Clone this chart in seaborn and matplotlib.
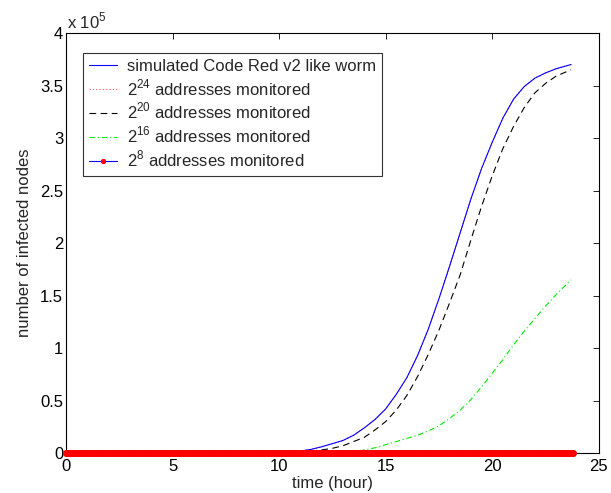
import matplotlib
matplotlib.use("Agg")
import matplotlib.pyplot as plt
import seaborn as sns
import pandas as pd
import numpy as np

sns.set_theme(style="white")
plt.rcParams['font.family'] = ['Liberation Sans', 'DejaVu Sans']
plt.rcParams['mathtext.fontset'] = 'custom'
plt.rcParams['mathtext.rm'] = 'Liberation Sans'

# time (hour) and infected nodes (x 1e5)
t_worm = [0, 5, 10, 10.5, 11, 11.5, 12, 12.5, 13, 13.5, 14, 14.5, 15, 15.5,
          16, 16.5, 17, 17.5, 18, 18.5, 19, 19.5, 20, 20.5, 21, 21.5, 22,
          22.5, 23, 23.7]
y_worm = [0, 0, 0, 0.01, 0.02, 0.035, 0.06, 0.09, 0.12, 0.17, 0.24, 0.32,
          0.42, 0.56, 0.72, 0.93, 1.18, 1.47, 1.78, 2.1, 2.42, 2.71, 2.96,
          3.19, 3.37, 3.49, 3.57, 3.62, 3.66, 3.70]

t_24 = t_worm
y_24 = y_worm

t_20 = [0, 5, 10, 10.5, 11, 11.5, 12, 12.5, 13, 13.5, 14, 14.5, 15, 15.5,
        16, 16.5, 17, 17.5, 18, 18.5, 19, 19.5, 20, 20.5, 21, 21.5, 22,
        22.5, 23, 23.7]
y_20 = [0, 0, 0, 0.003, 0.01, 0.02, 0.03, 0.045, 0.07, 0.11, 0.15, 0.22,
        0.3, 0.41, 0.55, 0.73, 0.94, 1.17, 1.43, 1.70, 2.03, 2.35, 2.64,
        2.90, 3.11, 3.29, 3.43, 3.52, 3.59, 3.65]

t_16 = [0, 5, 10, 13, 13.5, 14, 14.5, 15, 15.5, 16, 16.5, 17, 17.5, 18,
        18.5, 19, 19.5, 20, 20.5, 21, 21.5, 22, 22.5, 23, 23.7]
y_16 = [0, 0, 0, 0, 0.01, 0.03, 0.05, 0.08, 0.11, 0.14, 0.17, 0.21, 0.26,
        0.33, 0.41, 0.51, 0.63, 0.76, 0.89, 1.03, 1.16, 1.28, 1.40, 1.51,
        1.65]

t_8 = np.arange(0, 23.85, 0.05)
y_8 = np.where(t_8 < 19.3, 0.0, 0.005)

labels = ["simulated Code Red v2 like worm",
          r"2$^{24}$ addresses monitored",
          r"2$^{20}$ addresses monitored",
          r"2$^{16}$ addresses monitored",
          r"2$^{8}$ addresses monitored"]

fig, ax = plt.subplots(figsize=(6.11, 4.93), dpi=100)
plt.subplots_adjust(left=0.108, right=0.980, top=0.933, bottom=0.081)

df_worm = pd.DataFrame({"t": t_worm, "y": y_worm})
df_24 = pd.DataFrame({"t": t_24, "y": y_24})
df_20 = pd.DataFrame({"t": t_20, "y": y_20})
df_16 = pd.DataFrame({"t": t_16, "y": y_16})
df_8 = pd.DataFrame({"t": t_8, "y": y_8})

sns.lineplot(data=df_8, x="t", y="y", ax=ax, color="blue", lw=0.8,
             marker="o", markersize=4, markerfacecolor="red",
             markeredgecolor="red", markeredgewidth=1.0,
             label=labels[4], zorder=5, clip_on=False)
sns.lineplot(data=df_16, x="t", y="y", ax=ax, color="#00ee00", lw=0.8,
             linestyle=(0, (5, 2.5, 1, 2.5)), label=labels[3])
sns.lineplot(data=df_20, x="t", y="y", ax=ax, color="black", lw=0.8,
             linestyle=(0, (6, 4)), label=labels[2])
sns.lineplot(data=df_24, x="t", y="y", ax=ax, color="#ff5555", lw=0.8,
             linestyle=(0, (1, 2)), label=labels[1])
sns.lineplot(data=df_worm, x="t", y="y", ax=ax, color="blue", lw=0.8,
             label=labels[0])

ax.set_xlim(0, 25)
ax.set_ylim(0, 4)
ax.set_xticks([0, 5, 10, 15, 20, 25])
ax.set_yticks([0, 0.5, 1, 1.5, 2, 2.5, 3, 3.5, 4])
ax.set_yticklabels(["0", "0.5", "1", "1.5", "2", "2.5", "3", "3.5", "4"])
ax.tick_params(direction="in", top=True, right=True, length=4, width=0.6,
               labelsize=12, colors="black", pad=2)
ax.tick_params(axis="x", pad=4)
for s in ax.spines.values():
    s.set_color("black")
    s.set_linewidth(0.8)

ax.set_xlabel("time (hour)", fontsize=12, labelpad=2)
ax.set_ylabel("number of infected nodes", fontsize=12, labelpad=6)
ax.text(0.002, 1.005, r"x 10$^5$", transform=ax.transAxes, fontsize=12,
        ha="left", va="bottom")

handles, labs = ax.get_legend_handles_labels()
order = [4, 3, 2, 1, 0]
leg = ax.legend([handles[i] for i in order], [labs[i] for i in order],
                loc="upper left", bbox_to_anchor=(0.032, 0.952), fontsize=12,
                frameon=True, fancybox=False, edgecolor="black",
                handlelength=1.7, handletextpad=0.6, borderpad=0.35,
                labelspacing=0.2, borderaxespad=0, markerscale=0.7)
leg.get_frame().set_linewidth(0.8)

plt.savefig("out.png", dpi=100)
